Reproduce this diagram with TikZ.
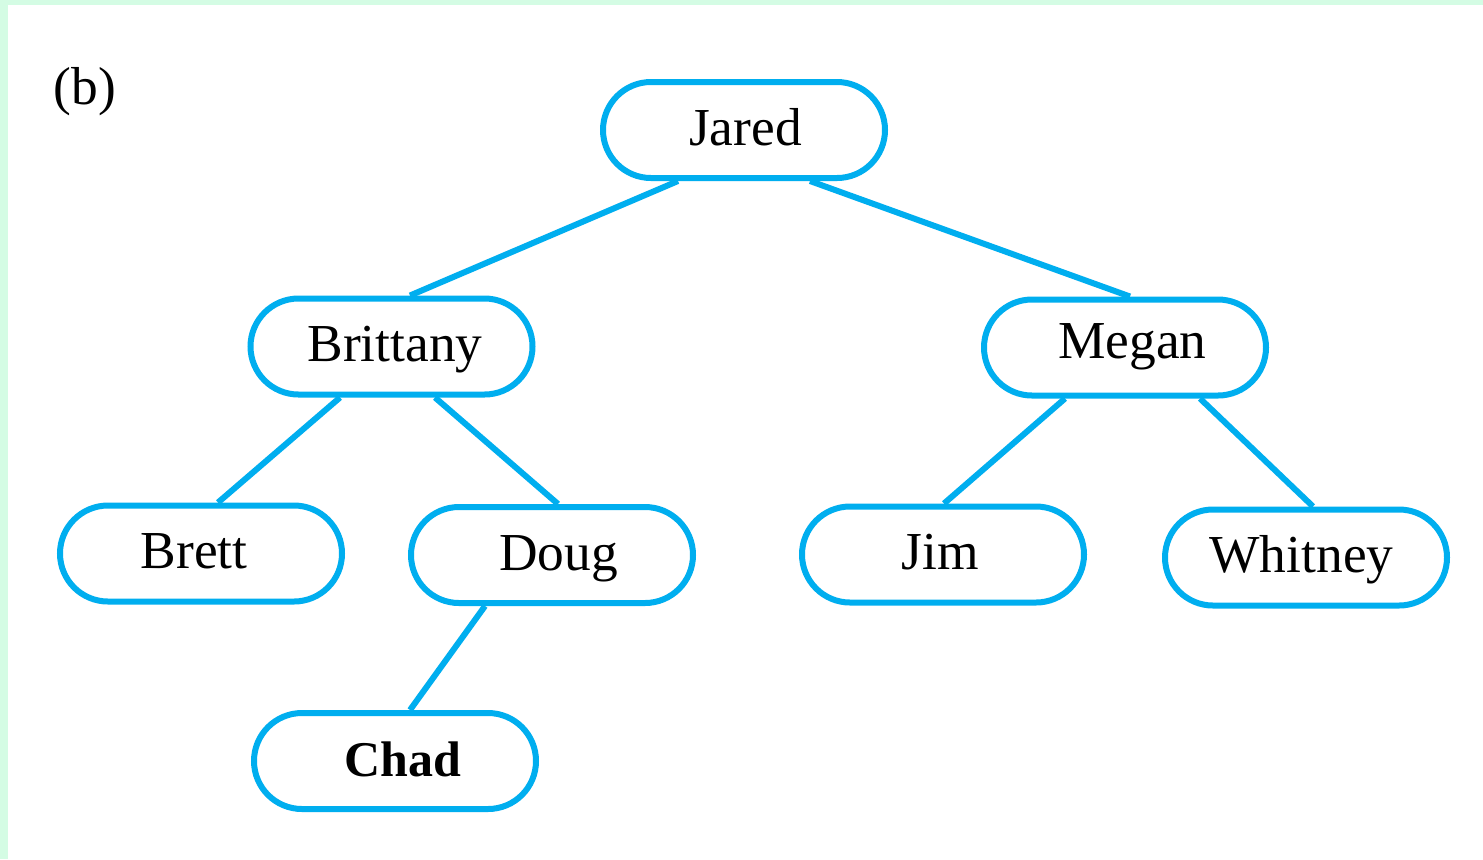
\documentclass[tikz,border=0pt]{standalone}
\usepackage{fontspec}
\setmainfont{Liberation Serif}
\usetikzlibrary{calc}
\definecolor{treeblue}{HTML}{00AEEF}
\definecolor{framegreen}{HTML}{D4FCE4}
\begin{document}
\begin{tikzpicture}[x=0.5pt,y=-0.5pt,
  namebox/.style={draw=treeblue,line width=3pt,rounded corners=24pt,
    minimum width=141pt,minimum height=48pt,inner sep=0pt,fill=white,
    text height=20pt,text depth=5pt,
    font=\fontsize{26.7}{28}\selectfont},
  tx/.style={execute at begin node={\hspace*{#1}}},
  branch/.style={draw=treeblue,line width=3pt}]
  % page and frame strips
  \path[use as bounding box,fill=white] (0,0) rectangle (1483,859);
  \fill[framegreen] (0,0) rectangle (1483,5);
  \fill[framegreen] (0,0) rectangle (8,859);

  \node[font=\fontsize{26.7}{28}\selectfont] (label) at (85,92) {(b)};

  % tree nodes
  \node[namebox,tx=1.5pt]  (jared)    at (744,130)     {Jared};
  \node[namebox,tx=3.5pt]  (brittany) at (391.5,346.5) {Brittany};
  \node[namebox,tx=7.5pt,text depth=9.5pt] (megan) at (1125,347.5) {Megan};
  \node[namebox,tx=-7pt]   (brett)    at (201,553.5)   {Brett};
  \node[namebox,tx=6.5pt]  (doug)     at (552,555)     {Doug};
  \node[namebox,tx=-2.5pt] (jim)      at (943,554.5)   {Jim};
  \node[namebox,tx=-4.5pt] (whitney)  at (1306,557.5)  {Whitney};
  \node[namebox,tx=7.5pt,font=\fontsize{25}{27}\selectfont\bfseries] (chad) at (395,761) {Chad};

  % branches
  \draw[branch] ($(jared.south)+(-66,0)$)    -- ($(brittany.north)+(18.5,0)$);
  \draw[branch] ($(jared.south)+(66,0)$)     -- ($(megan.north)+(5,0)$);
  \draw[branch] ($(brittany.south)+(-51.5,0)$) -- ($(brett.north)+(17,0)$);
  \draw[branch] ($(brittany.south)+(43.5,0)$)  -- ($(doug.north)+(6,0)$);
  \draw[branch] ($(megan.south)+(-60,0)$)    -- ($(jim.north)+(1,0)$);
  \draw[branch] ($(megan.south)+(75,0)$)     -- ($(whitney.north)+(7,0)$);
  \draw[branch] ($(doug.south)+(-67,0)$)     -- ($(chad.north)+(15,0)$);
\end{tikzpicture}
\end{document}
